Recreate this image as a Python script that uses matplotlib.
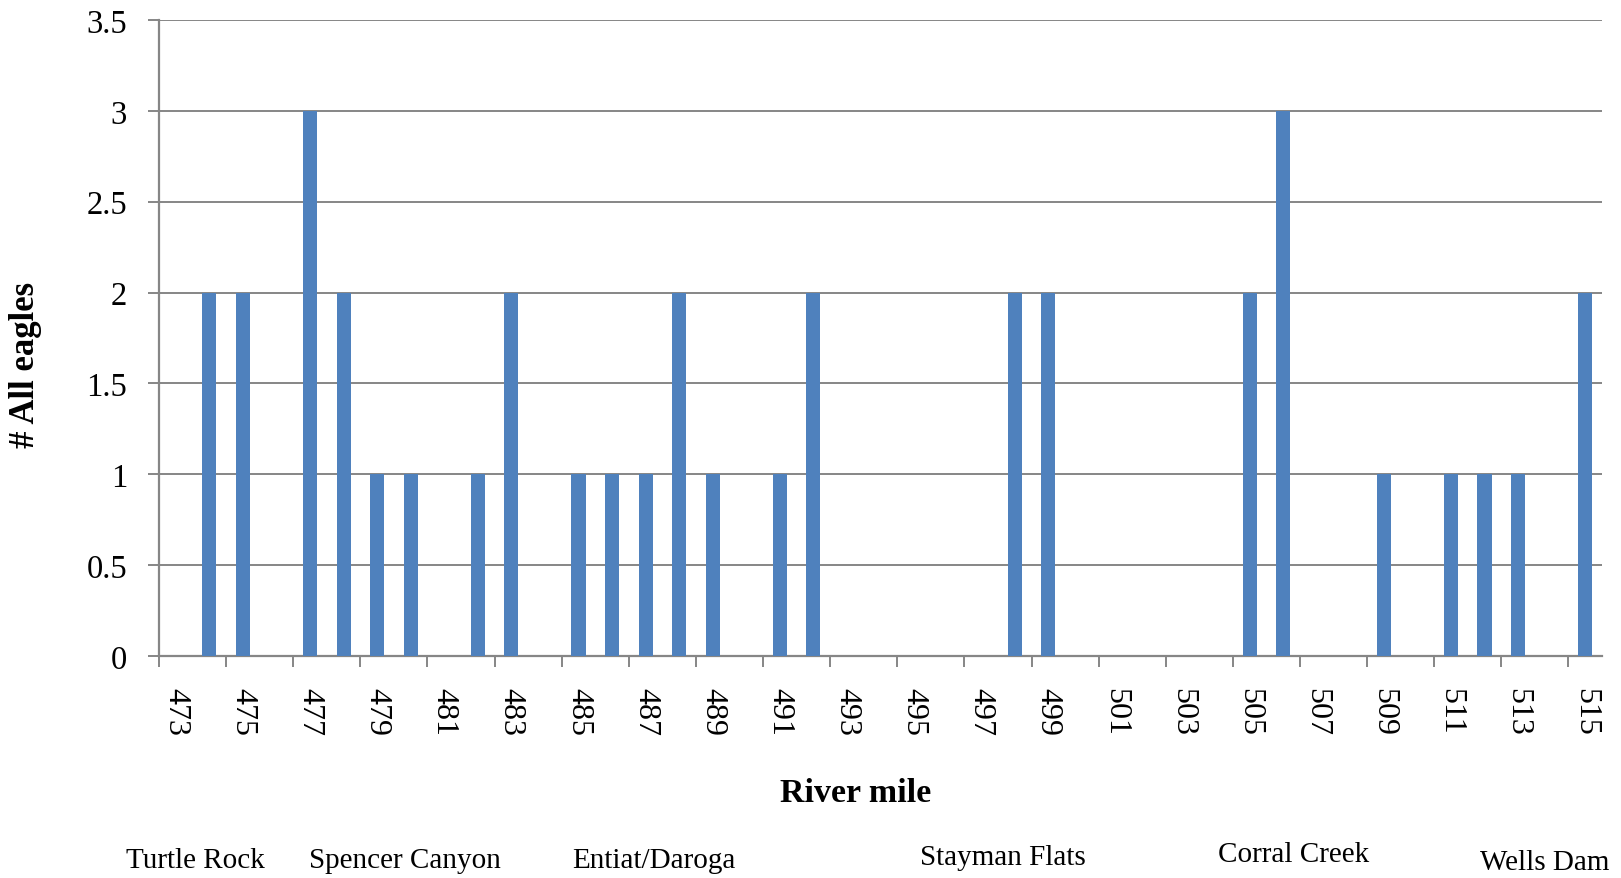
import matplotlib
matplotlib.use("Agg")
import matplotlib.pyplot as plt
import numpy as np

plt.rcParams['font.family'] = ['Liberation Serif', 'DejaVu Serif']

# river miles 473..515, eagle counts per mile
miles = [473, 474, 475, 476, 477, 478, 479, 480, 481, 482, 483, 484, 485, 486, 487,
         488, 489, 490, 491, 492, 493, 494, 495, 496, 497, 498, 499, 500, 501, 502,
         503, 504, 505, 506, 507, 508, 509, 510, 511, 512, 513, 514, 515]
eagles = [0, 2, 2, 0, 3, 2, 1, 1, 0, 1, 2, 0, 1, 1, 1,
          2, 1, 0, 1, 2, 0, 0, 0, 0, 0, 2, 2, 0, 0, 0,
          0, 0, 2, 3, 0, 0, 1, 0, 1, 1, 1, 0, 2]
places = ['Turtle Rock', 'Spencer Canyon', 'Entiat/Daroga',
          'Stayman Flats', 'Corral Creek', 'Wells Dam']

W, H = 1621, 879
fig = plt.figure(figsize=(W / 100, H / 100), dpi=100)
ax = fig.add_axes([159 / W, 1 - 657 / H, (1602 - 159) / W, (657 - 21) / H])

gray = '#868686'
x = np.arange(len(miles))
ax.bar(x, eagles, width=0.42, color='#4F81BD', linewidth=0, zorder=3)

ax.set_xlim(-0.5, len(miles) - 0.5)
ax.set_ylim(0, 3.5)
yt = np.arange(0, 3.51, 0.5)
ax.set_yticks(yt)
ax.set_yticklabels(['%g' % v for v in yt], fontsize=23.5)
ax.yaxis.grid(True, color=gray, linewidth=1.4, zorder=0)
ax.set_axisbelow(True)

# labels on every other mile, tick marks at category edges
ax.set_xticks(x[::2])
ax.set_xticklabels([str(m) for m in miles[::2]], rotation=-90, fontsize=23)
ax.set_xticks(x[::2] - 0.5, minor=True)
ax.tick_params(axis='x', which='major', length=0, pad=22)
ax.tick_params(axis='x', which='minor', length=8, width=1.4, color=gray, direction='out')
ax.tick_params(axis='y', length=8, width=1.4, color=gray, direction='out', pad=15)

for s in ['top', 'right']:
    ax.spines[s].set_visible(False)
for s in ['left', 'bottom']:
    ax.spines[s].set_color(gray)
    ax.spines[s].set_linewidth(1.6)

ax.set_ylabel('# All eagles', fontsize=25, fontweight='bold')
ax.yaxis.set_label_coords(-0.081, 0.46)
ax.set_xlabel('River mile', fontsize=24.5, fontweight='bold')
ax.xaxis.set_label_coords(0.483, -0.19)

# place names under the axis
px = [195, 405, 654, 1003, 1294, 1545]
py = [868, 868, 868, 865, 862, 870]
for name, cx, cy in zip(places, px, py):
    fig.text(cx / W, 1 - cy / H, name, fontsize=21, ha='center', va='baseline')

fig.savefig('out.png', dpi=100)
